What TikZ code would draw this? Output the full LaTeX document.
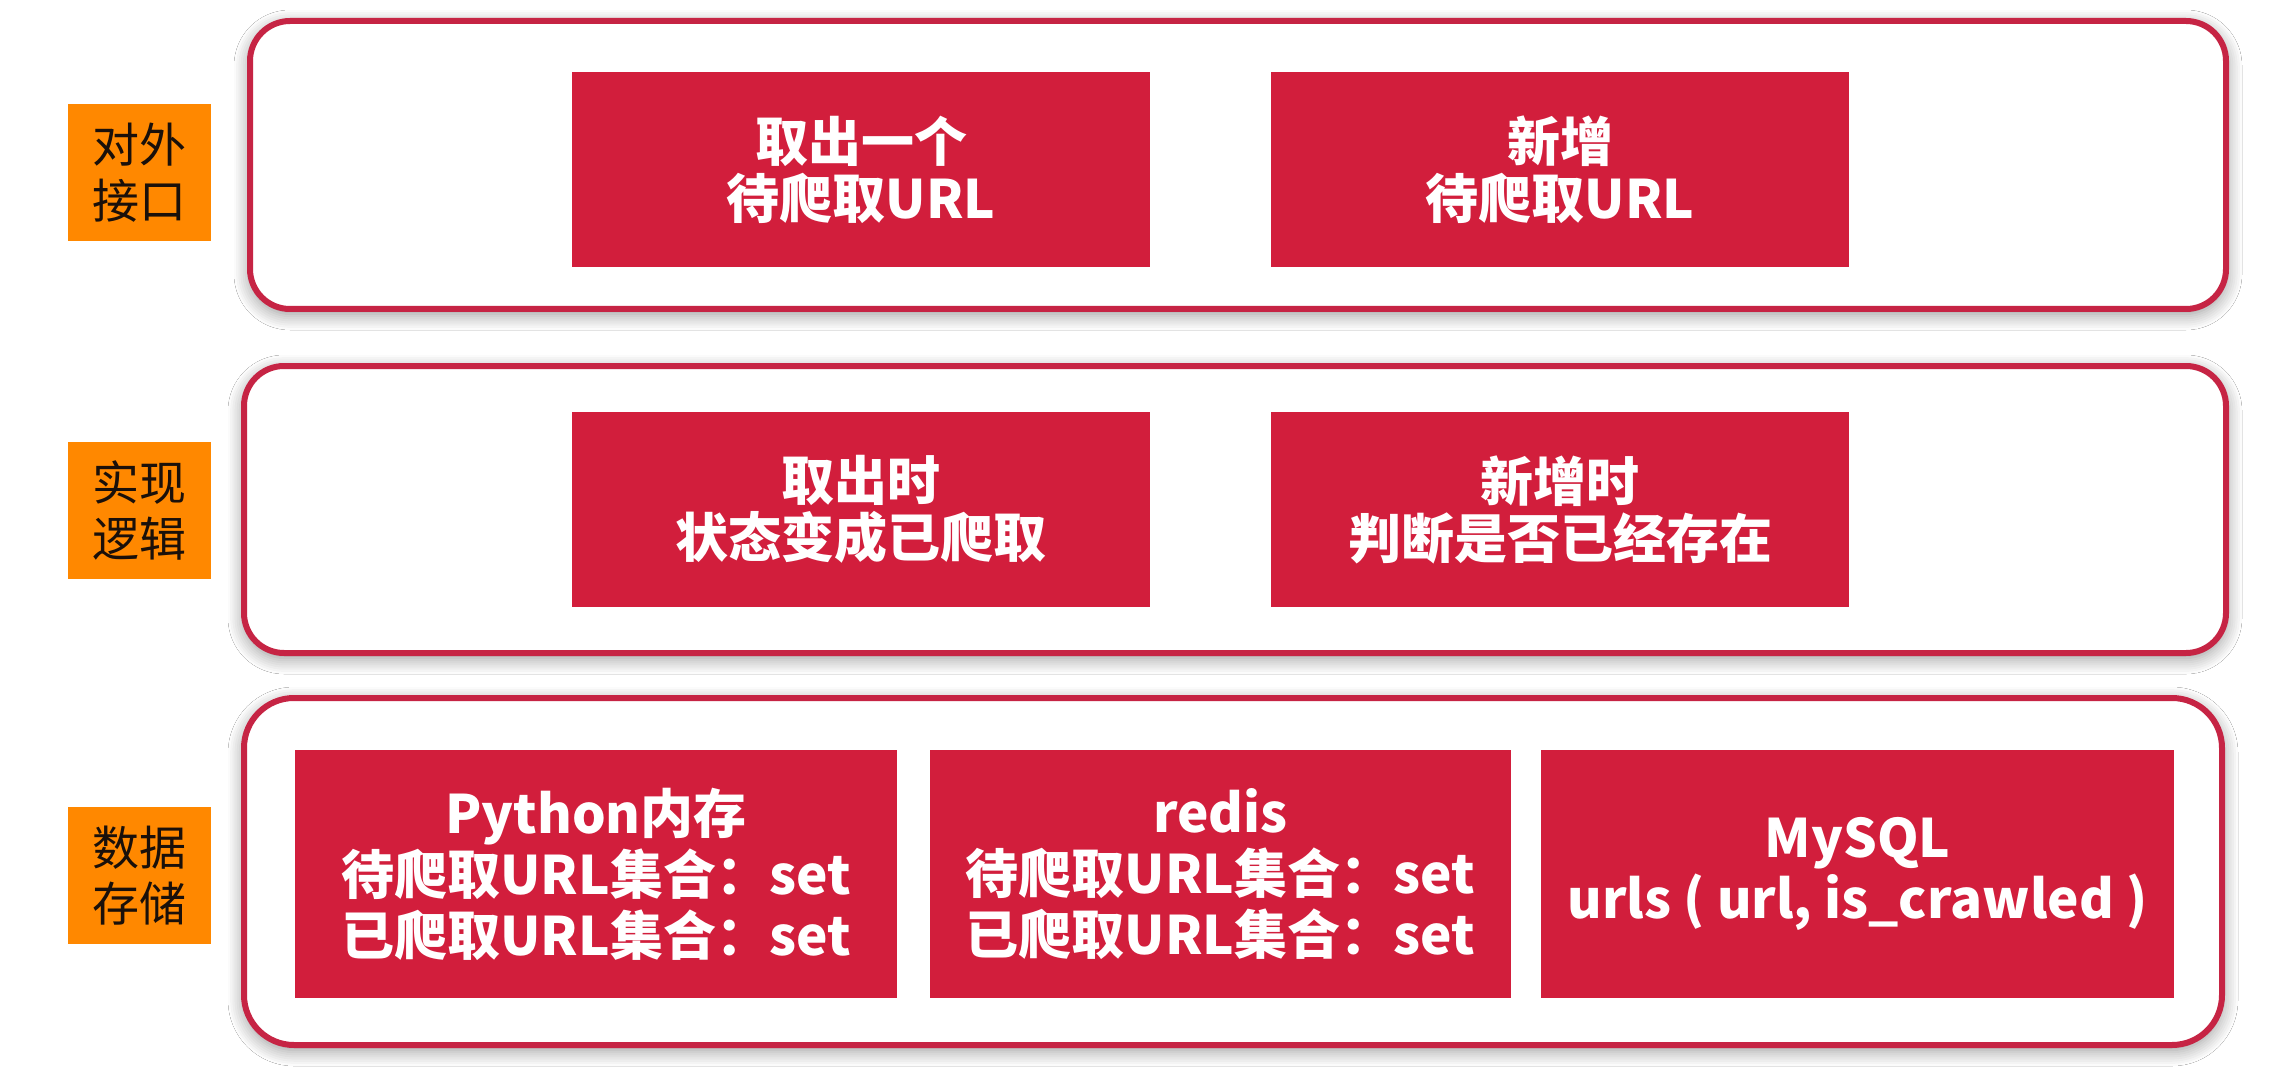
\documentclass[tikz,border=0pt]{standalone}
\usepackage{fontspec}
\setmainfont{Noto Sans CJK SC}
\usetikzlibrary{shadows.blur}
\definecolor{boxred}{RGB}{210,30,60}
\definecolor{panelred}{RGB}{198,36,68}
\definecolor{lblorange}{RGB}{255,136,0}
\definecolor{lbltext}{RGB}{26,16,10}
\tikzset{
  panel/.style={draw=panelred, line width=6pt, fill=white, rounded corners=#1,
    blur shadow={shadow xshift=0pt, shadow yshift=-5pt, shadow blur radius=16pt,
      shadow blur steps=8, shadow opacity=45}},
  redbox/.style={fill=boxred, draw=none, inner sep=0pt, text=white, align=center,
    font=\bfseries\fontsize{53}{57}\selectfont},
  bigbox/.style={redbox, font=\bfseries\fontsize{53}{61}\selectfont},
  label/.style={fill=lblorange, draw=none, inner sep=0pt, text=lbltext, align=center,
    minimum width=143pt, minimum height=137pt, font=\fontsize{47}{56}\selectfont},
}
\begin{document}
\begin{tikzpicture}[x=1pt, y=-1pt]
\useasboundingbox[fill=white] (0,0) rectangle (2276,1067);
% panels
\node[panel=40pt, minimum width=1976pt, minimum height=288pt, inner sep=0pt] (p1) at (1238,165) {};
\node[panel=40pt, minimum width=1982pt, minimum height=287pt, inner sep=0pt] (p2) at (1235,509.5) {};
\node[panel=50pt, minimum width=1978pt, minimum height=347pt, inner sep=0pt] (p3) at (1233,871.5) {};
% labels
\node[label] (l1) at (139.5,172.5) {对外\\接口};
\node[label] (l2) at (139.5,510.5) {实现\\逻辑};
\node[label] (l3) at (139.5,875.5) {数据\\存储};
% row 1
\node[redbox, minimum width=578pt, minimum height=195pt] (r1a) at (861,170) {取出一个\\待爬取URL};
\node[redbox, minimum width=578pt, minimum height=195pt] (r1b) at (1560,170) {新增\\待爬取URL};
% row 2
\node[redbox, minimum width=578pt, minimum height=195pt] (r2a) at (861,509.5) {取出时\\状态变成已爬取};
\node[redbox, minimum width=578pt, minimum height=195pt] (r2b) at (1560,509.5) {新增时\\判断是否已经存在};
% row 3
\node[bigbox, minimum width=602pt, minimum height=248pt] (r3a) at (596,874) {Python内存\\待爬取URL集合：set\\已爬取URL集合：set};
\node[bigbox, minimum width=581pt, minimum height=248pt] (r3b) at (1220.5,874) {redis\\待爬取URL集合：set\\已爬取URL集合：set};
\node[bigbox, minimum width=633pt, minimum height=248pt] (r3c) at (1857.5,874) {MySQL\\urls ( url, is\_crawled )};
\end{tikzpicture}
\end{document}
